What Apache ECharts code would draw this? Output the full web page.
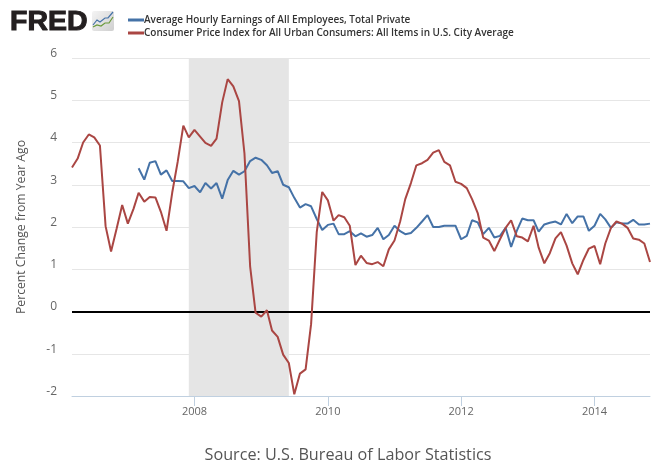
<!DOCTYPE html>
<html><head><meta charset="utf-8">
<style>html,body{margin:0;padding:0;background:#fff}#c{width:670px;height:468px}</style>
<script src="https://cdn.jsdelivr.net/npm/echarts@6/dist/echarts.min.js"></script>
</head><body><div id="c"></div>
<script>
const wageName = 'Average Hourly Earnings of All Employees, Total Private';
const cpiName = 'Consumer Price Index for All Urban Consumers: All Items in U.S. City Average';
const sourceText = 'Source: U.S. Bureau of Labor Statistics';
const yTitle = 'Percent Change from Year Ago';
const cpiStart = [2006, 3];
const wageStart = [2007, 3];
const tickYears = [2008, 2010, 2012, 2014];
const recession = ['2007-12-01', '2009-06-01'];
const cpiValues = [3.41,3.62,4.0,4.19,4.12,3.93,2.02,1.42,1.97,2.52,2.08,2.43,2.81,2.6,2.71,2.7,2.36,1.91,2.81,3.54,4.4,4.12,4.3,4.14,3.99,3.92,4.09,4.95,5.5,5.33,4.98,3.74,1.07,-0.03,-0.12,0.03,-0.45,-0.6,-1.02,-1.22,-1.96,-1.47,-1.37,-0.3,1.88,2.83,2.63,2.15,2.28,2.23,2.03,1.1,1.32,1.15,1.12,1.17,1.07,1.47,1.68,2.13,2.66,3.04,3.46,3.51,3.59,3.76,3.82,3.54,3.46,3.07,3.02,2.92,2.66,2.33,1.75,1.68,1.43,1.71,1.98,2.16,1.78,1.75,1.66,2.03,1.51,1.14,1.38,1.73,1.88,1.56,1.14,0.88,1.22,1.49,1.55,1.12,1.61,1.98,2.13,2.08,1.98,1.73,1.7,1.61,1.17];
const wageValues = [3.39,3.12,3.52,3.56,3.24,3.34,3.09,3.09,3.08,2.92,2.97,2.82,3.04,2.91,3.04,2.67,3.11,3.33,3.24,3.32,3.56,3.64,3.59,3.46,3.28,3.32,3.0,2.94,2.69,2.46,2.54,2.49,2.19,1.93,2.05,2.08,1.83,1.83,1.9,1.78,1.85,1.77,1.81,1.98,1.71,1.81,2.03,1.9,1.83,1.86,1.98,2.13,2.28,2.0,2.0,2.03,2.03,2.03,1.71,1.79,2.16,2.11,1.83,1.98,1.75,1.79,1.98,1.53,1.91,2.2,2.16,2.16,1.89,2.06,2.1,2.13,2.06,2.31,2.09,2.25,2.25,1.91,2.03,2.31,2.18,1.98,2.11,2.08,2.08,2.17,2.06,2.06,2.08];

const monthly = (start, vals) => vals.map((v, i) => [Date.UTC(start[0], start[1] - 1 + i, 1), v]);
const cpi = monthly(cpiStart, cpiValues);
const wage = monthly(wageStart, wageValues);
const tickValues = tickYears.map(y => Date.UTC(y, 0, 1));
const font = '"Open Sans", sans-serif';
const chart = echarts.init(document.getElementById('c'), null, {renderer: 'canvas'});
chart.setOption({
  animation: false,
  backgroundColor: '#fff',
  grid: {left: 72, right: 20, top: 58, bottom: 72},
  title: {text: sourceText, left: 343, textAlign: 'center', top: 442,
    textStyle: {fontFamily: font, fontSize: 16.2, fontWeight: 'normal', color: '#555'}},
  legend: {left: 123, top: 10, orient: 'vertical', itemGap: 3, itemWidth: 16, itemHeight: 12,
    selectedMode: false,
    data: [{name: wageName, icon: 'path://M0 0H16V3H0Z'}, {name: cpiName, icon: 'path://M0 0H16V3H0Z'}],
    textStyle: {fontFamily: font, fontSize: 10, color: '#333', padding: [0, 0, 0, -5], fontWeight: 600}},
  xAxis: {type: 'value', min: cpi[0][0], max: cpi[cpi.length - 1][0], scale: true,
    axisLine: {show: true, onZero: false, lineStyle: {color: '#c0d0e0', width: 1}},
    splitLine: {show: false},
    axisTick: {show: true, length: 10, lineStyle: {color: '#c0d0e0'}, customValues: tickValues},
    axisLabel: {color: '#666', fontFamily: font, fontSize: 11, margin: 10, hideOverlap: false,
      customValues: tickValues,
      formatter: v => String(new Date(v).getUTCFullYear())}},
  yAxis: {type: 'value', min: -2, max: 6, interval: 1,
    name: yTitle, nameLocation: 'middle', nameGap: 44, nameRotate: 90,
    nameTextStyle: {fontFamily: font, fontSize: 12.2, color: '#555'},
    axisLine: {show: false}, axisTick: {show: false},
    splitLine: {lineStyle: {color: '#e6e6e6', width: 1}},
    axisLabel: {color: '#666', fontFamily: font, fontSize: 12, margin: 15, verticalAlign: 'bottom', lineHeight: 9}},
  series: [
    {name: wageName, type: 'line', data: wage, showSymbol: false, z: 5,
      lineStyle: {color: '#4572a7', width: 2}, itemStyle: {color: '#4572a7'}},
    {name: cpiName, type: 'line', data: cpi, showSymbol: false, z: 6,
      lineStyle: {color: '#aa4643', width: 2}, itemStyle: {color: '#aa4643'},
      markArea: {silent: true, itemStyle: {color: '#e5e5e5'},
        data: [[{xAxis: Date.parse(recession[0])}, {xAxis: Date.parse(recession[1])}]]},
      markLine: {silent: true, symbol: 'none', label: {show: false},
        lineStyle: {color: '#000', width: 2, type: 'solid'}, data: [{yAxis: 0}]}}
  ],
  graphic: [
    {type: 'text', x: 10, y: 9, scaleX: 1.055, z: 10, style: {text: 'FRED', font: '900 27px "Liberation Sans", Arial, sans-serif', fill: '#231f20', stroke: '#231f20', lineWidth: 1}},
    {type: 'rect', shape: {x: 92, y: 11, width: 22, height: 20, r: 2}, z: 10,
      style: {fill: new echarts.graphic.LinearGradient(0, 0, 1, 1, [{offset: 0, color: '#f4f4f4'}, {offset: 1, color: '#cfcfcf'}])}},
    {type: 'polyline', shape: {points: [[93, 25], [97, 20], [100, 22], [105, 18], [108, 18], [113, 12]]}, z: 11, style: {stroke: '#4572a7', fill: null, lineWidth: 1.2}},
    {type: 'polyline', shape: {points: [[93, 27], [97, 25], [101, 26], [105, 23], [109, 23], [113, 17]]}, z: 11, style: {stroke: '#6a9a3a', fill: null, lineWidth: 1.2}}
  ]
});
</script></body></html>
